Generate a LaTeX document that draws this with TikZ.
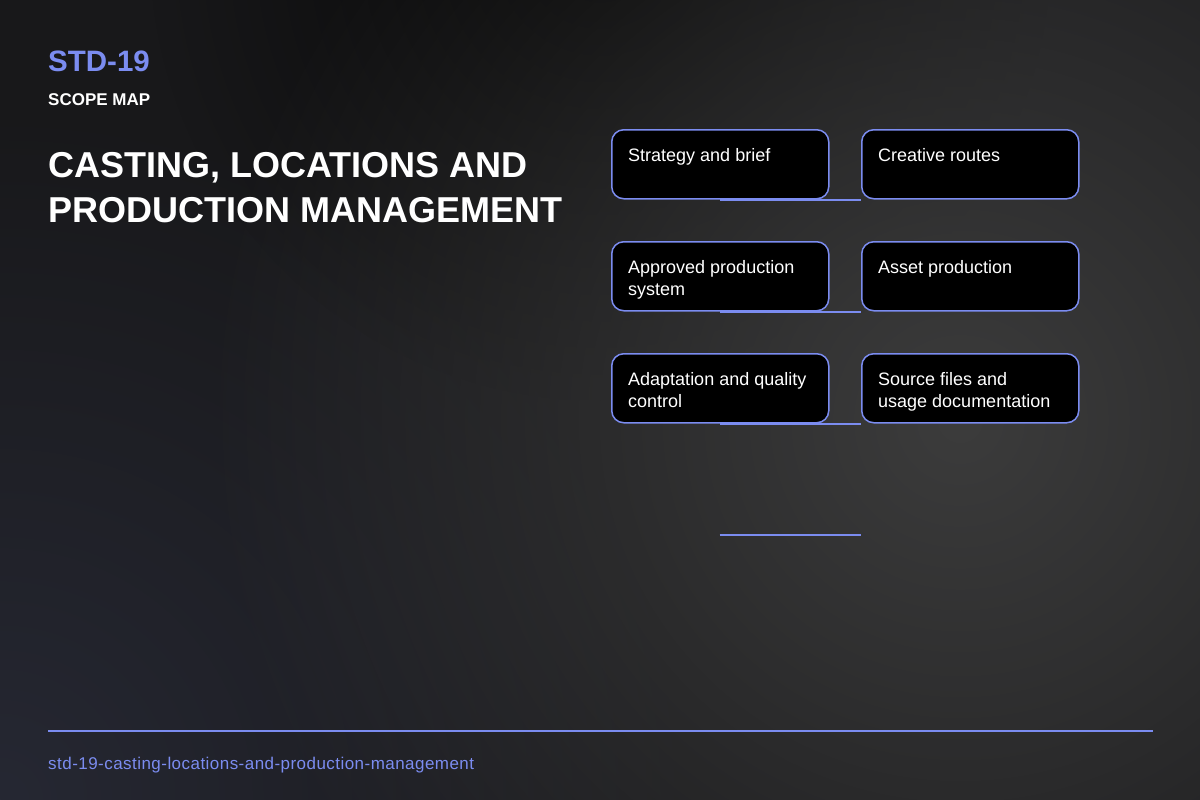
\documentclass[tikz,border=0pt]{standalone}
\usepackage{fontspec}
\setmainfont{Liberation Sans}
\usetikzlibrary{fadings}
\definecolor{accent}{HTML}{7B8CF0}
\definecolor{bgbase}{HTML}{18181A}
\definecolor{glowc}{HTML}{3C3C3C}
\definecolor{bluec}{HTML}{262833}
\definecolor{darkc}{HTML}{070707}
\tikzfading[name=softglow, inner color=transparent!0, outer color=transparent!100]
\tikzset{
  card/.style={draw=accent, line width=1.5pt, fill=black, rounded corners=12pt, minimum width=217pt, minimum height=69pt, inner sep=0pt, anchor=north west},
  cardtext/.style={anchor=base west, align=left, inner sep=0pt, text=white, font=\fontsize{18}{22}\selectfont},
  link/.style={draw=accent, line width=2pt}
}
\begin{document}
\begin{tikzpicture}[x=1pt,y=-1pt]
\useasboundingbox (0,0) rectangle (1200,800);
% background
\fill[bgbase] (0,0) rectangle (1200,800);
\begin{scope}
\clip (0,0) rectangle (1200,800);
\fill[bluec, path fading=softglow, fit fading=true] (-700,100) rectangle (700,1500);
\fill[darkc, path fading=softglow, fit fading=true] (150,-500) rectangle (1050,400);
\fill[glowc, path fading=softglow, fit fading=true] (200,-340) rectangle (1720,1180);
\end{scope}
% header
\node[anchor=base west, inner sep=0pt, text=accent, font=\fontsize{29.5}{32}\bfseries\selectfont] (code) at (48,71) {STD-19};
\node[anchor=base west, inner sep=0pt, text=white, font=\fontsize{17}{20}\bfseries\selectfont] (sub) at (48,105) {SCOPE MAP};
\node[anchor=base west, inner sep=0pt, text=white, font=\fontsize{36}{40}\bfseries\selectfont] (t1) at (48,177) {CASTING, LOCATIONS AND};
\node[anchor=base west, inner sep=0pt, text=white, font=\fontsize{36}{40}\bfseries\selectfont] (t2) at (48,222) {PRODUCTION MANAGEMENT};
% cards
\node[card] (a1) at (611,129) {};
\node[card] (b1) at (861,129) {};
\node[card] (a2) at (611,241) {};
\node[card] (b2) at (861,241) {};
\node[card] (a3) at (611,353) {};
\node[card] (b3) at (861,353) {};
\coordinate (a4) at (719.5,534.5);
\coordinate (b4) at (861,534.5);
% links
\draw[link] (a1.south) -- (b1.south west);
\draw[link] (a2.south) -- (b2.south west);
\draw[link] (a3.south) -- (b3.south west);
\draw[link] (a4) -- (b4);
% card texts (base = baseline of the last line)
\node[cardtext] (la1) at ([shift={(17,32)}]a1.north west) {Strategy and brief};
\node[cardtext] (lb1) at ([shift={(17,32)}]b1.north west) {Creative routes};
\node[cardtext] (la2) at ([shift={(17,54)}]a2.north west) {Approved production\\system};
\node[cardtext] (lb2) at ([shift={(17,32)}]b2.north west) {Asset production};
\node[cardtext] (la3) at ([shift={(17,54)}]a3.north west) {Adaptation and quality\\control};
\node[cardtext] (lb3) at ([shift={(17,54)}]b3.north west) {Source files and\\usage documentation};
% footer
\coordinate (fl) at (48,731);
\coordinate (fr) at (1153,731);
\draw[accent, line width=2pt] (fl) -- (fr);
\node[anchor=base west, inner sep=0pt, text=accent, font=\fontsize{17}{20}\selectfont\addfontfeature{LetterSpace=2.7}] (foot) at (48,769) {std-19-casting-locations-and-production-management};
\end{tikzpicture}
\end{document}
